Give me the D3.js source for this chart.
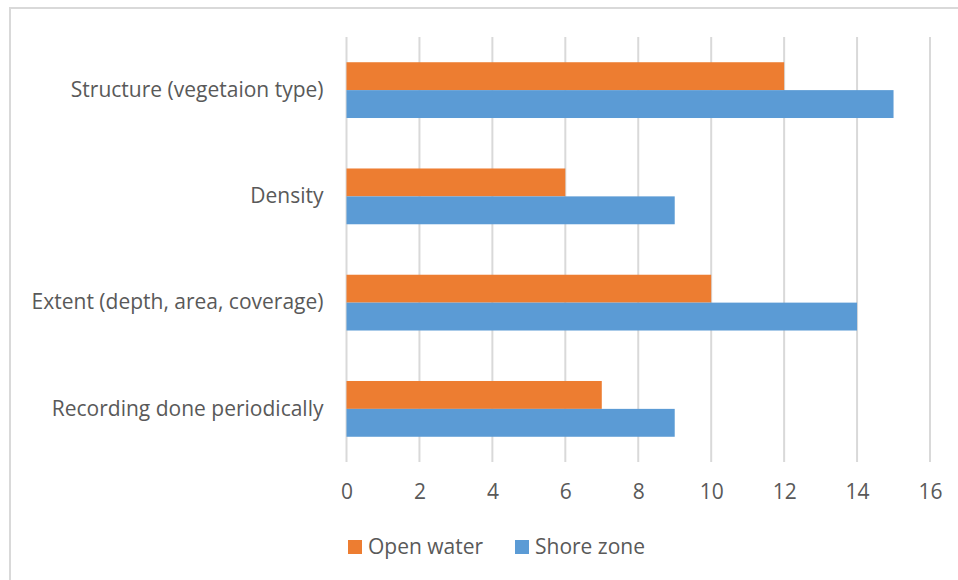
<!DOCTYPE html>
<html><head><meta charset="utf-8">
<script src="https://cdn.jsdelivr.net/npm/d3@7"></script>
<style>html,body{margin:0;padding:0;background:#fff;}svg{display:block;}</style>
</head><body>
<svg id="c" width="958" height="580"></svg>
<script>
const categories = ["Structure (vegetaion type)", "Density", "Extent (depth, area, coverage)", "Recording done periodically"];
const seriesNames = ["Open water", "Shore zone"];
const openWater = [12, 6, 10, 7];
const shoreZone = [15, 9, 14, 9];
const tickValues = [0, 2, 4, 6, 8, 10, 12, 14, 16];
const colors = ["#ED7D31", "#5B9BD5"];

const svg = d3.select("#c");
const font = "'Open Sans', 'Segoe UI', sans-serif";
const fontSize = 21;
const textColor = "#595959";
const gridColor = "#d9d9d9";

// chart border (cropped)
svg.append("rect").attr("x", 10).attr("y", 8).attr("width", 1000).attr("height", 700)
  .attr("fill", "none").attr("stroke", gridColor).attr("stroke-width", 2);

const pLeft = 346.5, pRight = 930, pTop = 37, pBottom = 462;
const x = d3.scaleLinear().domain([0, 16]).range([pLeft, pRight]);
const y = d3.scaleBand().domain(categories).range([pTop, pBottom]).paddingInner(0.475).paddingOuter(0.2375);
const ySub = d3.scaleBand().domain(seriesNames).range([0, y.bandwidth()]);

// gridlines
svg.append("g").selectAll("line").data(tickValues).join("line")
  .attr("x1", d => x(d)).attr("x2", d => x(d))
  .attr("y1", pTop).attr("y2", pBottom)
  .attr("stroke", gridColor).attr("stroke-width", 2);

// bars
const data = categories.map((c, i) => ({c, vals: [openWater[i], shoreZone[i]]}));
const g = svg.append("g").selectAll("g").data(data).join("g")
  .attr("transform", d => `translate(0,${y(d.c)})`);
g.selectAll("rect").data(d => d.vals.map((v, j) => ({v, s: seriesNames[j], j}))).join("rect")
  .attr("x", x(0)).attr("y", d => ySub(d.s))
  .attr("width", d => x(d.v) - x(0)).attr("height", ySub.bandwidth())
  .attr("fill", d => colors[d.j]);

// x axis labels
const xAxis = d3.axisBottom(x).tickValues(tickValues).tickSize(0).tickPadding(0);
const xa = svg.append("g").attr("transform", `translate(0,${pBottom})`).call(xAxis);
xa.select(".domain").remove();
xa.selectAll("text").attr("y", 30).attr("dy", "0.35em")
  .attr("font-family", font).attr("font-size", fontSize).attr("fill", textColor);

// y axis labels
const yAxis = d3.axisLeft(y).tickSize(0).tickPadding(23);
const ya = svg.append("g").attr("transform", `translate(${pLeft},0)`).call(yAxis);
ya.select(".domain").remove();
ya.selectAll("text").attr("font-family", font).attr("font-size", fontSize).attr("fill", textColor);

// legend
const legendX = [348, 515];
const lg = svg.append("g").selectAll("g").data(seriesNames).join("g")
  .attr("transform", (d, i) => `translate(${legendX[i]},540)`);
lg.append("rect").attr("width", 14).attr("height", 14).attr("fill", (d, i) => colors[i]);
lg.append("text").attr("x", 20).attr("y", 7).attr("dy", "0.35em")
  .attr("font-family", font).attr("font-size", fontSize).attr("fill", textColor).text(d => d);
</script>
</body></html>
